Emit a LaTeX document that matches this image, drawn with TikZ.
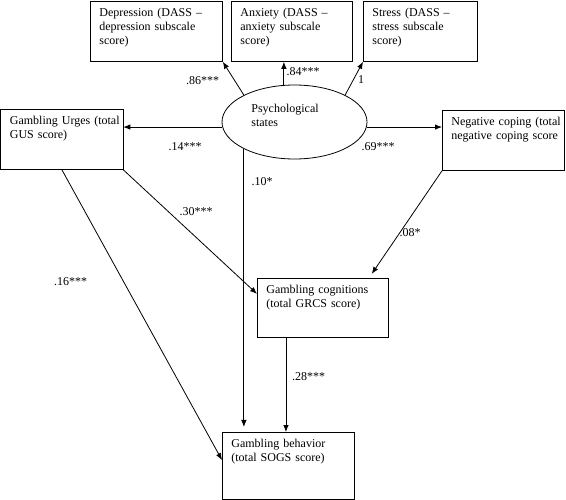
\documentclass[tikz,border=0pt]{standalone}
\usepackage{fontspec}
\setmainfont{Liberation Serif}
\usetikzlibrary{shapes.geometric,arrows.meta}
\hyphenpenalty=10000

\begin{document}
\begin{tikzpicture}[x=1pt,y=-1pt,font=\fontsize{12}{14}\selectfont,
  obsbox/.style={draw,rectangle,anchor=north west,align=left,line width=.8pt,
    inner xsep=9pt,inner ysep=4pt,text height=11pt,text depth=#1},
  obsbox/.default=41pt,
  latentvar/.style={draw,ellipse,line width=.8pt,minimum width=145pt,minimum height=74pt,inner sep=0pt},
  coef/.style={inner sep=1pt},
  link/.style={-{Latex[length=7pt,width=5.5pt]},line width=.8pt}]
  \useasboundingbox (0,0) rectangle (566,500);
  \node[obsbox,text width=114pt] (dep) at (90,1) {Depression (DASS --\\depression subscale\\score)};
  \node[obsbox,text width=103pt] (anx) at (231,1) {Anxiety (DASS --\\anxiety subscale\\score)};
  \node[obsbox,text width=96pt] (str) at (363,1) {Stress (DASS --\\stress subscale\\score)};
  \node[obsbox,text width=104pt] (urg) at (0.5,109) {Gambling~Urges~(total\\GUS score)};
  \node[obsbox,text width=104pt] (neg) at (442,110) {Negative~coping~(total\\negative~coping~score};
  \node[obsbox=40pt,text width=113pt] (cog) at (257,278) {Gambling cognitions\\(total GRCS score)};
  \node[obsbox=48pt,text width=114pt] (beh) at (222,432) {Gambling behavior\\(total SOGS score)};
  \node[latentvar] (psy) at (294.5,122) {};
  \node[align=left] (psytxt) at (285,115.5) {Psychological\\states};
  \path[link]
    (psy.152) edge (dep.south east)
    (psy.106) edge (psy.106 |- anx.south)
    (psy.28) edge (str.south west)
    (psy.184) edge (psy.184 -| urg.east)
    (psy.356) edge (psy.356 -| neg.west)
    (psy.208) edge[shorten >=5pt] (psy.208 |- beh.north)
    (urg.south east) edge (cog.168)
    (urg.south) edge (beh.175)
    (neg.south west) edge[shorten >=5pt] (cog.33)
    (cog.219) edge (cog.219 |- beh.north);
  \node[coef] (c86) at (202.5,81) {.86***};
  \node[coef] (c84) at (303,72) {.84***};
  \node[coef] (c1) at (361,80) {1};
  \node[coef] (c14) at (185,147) {.14***};
  \node[coef] (c69) at (378,147) {.69***};
  \node[coef] (c10) at (262,182) {.10*};
  \node[coef] (c30) at (196,212) {.30***};
  \node[coef] (c16) at (70.5,282) {.16***};
  \node[coef] (c08) at (410,233) {.08*};
  \node[coef] (c28) at (308.5,377) {.28***};
\end{tikzpicture}
\end{document}
